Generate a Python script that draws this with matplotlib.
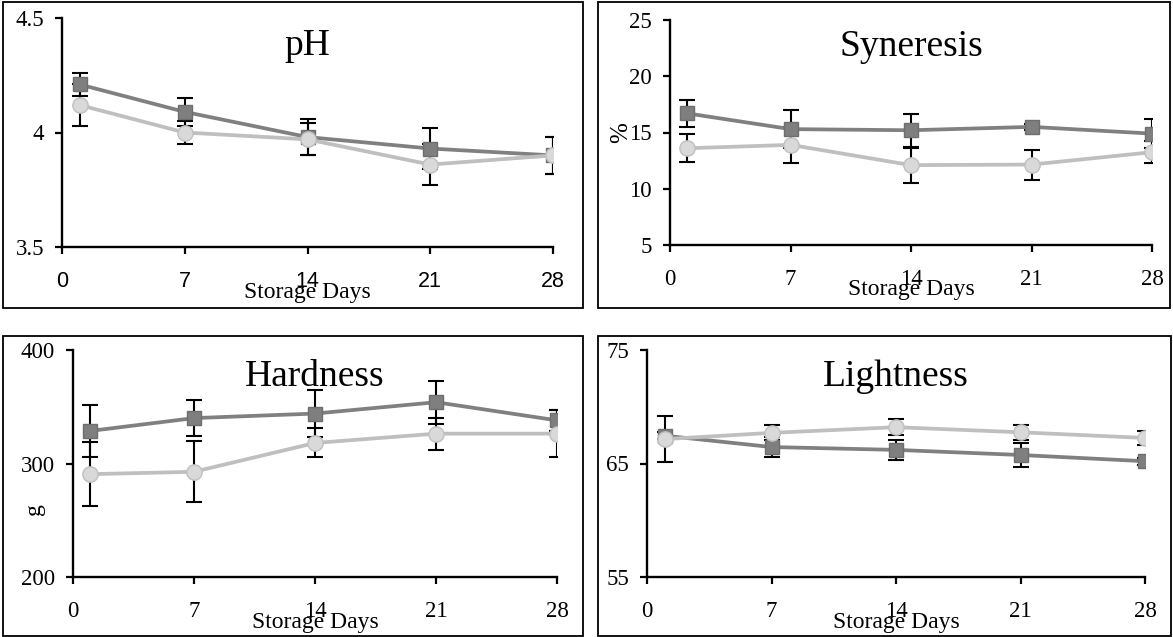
import matplotlib
matplotlib.use("Agg")
import matplotlib.pyplot as plt
from matplotlib.patches import Rectangle

plt.rcParams["font.family"] = ["Liberation Serif", "DejaVu Serif"]

days = [1, 7, 14, 21, 28]
x_ticks = [0, 7, 14, 21, 28]

# pH
ph_dark = [4.21, 4.09, 3.98, 3.93, 3.90]
ph_dark_err = [0.05, 0.06, 0.08, 0.09, 0.08]
ph_light = [4.12, 4.00, 3.97, 3.86, 3.90]
ph_light_err = [0.09, 0.05, 0.07, 0.09, 0.08]

# Syneresis (%)
syn_dark = [16.7, 15.3, 15.2, 15.5, 14.9]
syn_dark_err = [1.2, 1.7, 1.45, 0.3, 1.3]
syn_light = [13.6, 13.9, 12.1, 12.15, 13.25]
syn_light_err = [1.25, 1.6, 1.55, 1.33, 1.0]

# Hardness (g)
hard_dark = [328.7, 340.0, 344.0, 354.0, 338.0]
hard_dark_err = [23.0, 15.6, 20.4, 19.0, 9.4]
hard_light = [290.6, 292.7, 318.1, 326.3, 326.3]
hard_light_err = [28.0, 27.0, 12.8, 14.0, 21.0]

# Lightness
lig_dark = [67.45, 66.45, 66.2, 65.75, 65.2]
lig_dark_err = [0.3, 0.9, 0.9, 1.06, 0.3]
lig_light = [67.15, 67.7, 68.2, 67.75, 67.25]
lig_light_err = [2.05, 0.65, 0.7, 0.67, 0.6]

W, H = 1173, 637
fig = plt.figure(figsize=(W / 100, H / 100), dpi=100)


def px_axes(x0, x1, y0, y1):
    return fig.add_axes([x0 / W, 1 - y1 / H, (x1 - x0) / W, (y1 - y0) / H])


def box(x0, x1, y0, y1):
    fig.patches.append(Rectangle((x0 / W, 1 - y1 / H), (x1 - x0) / W, (y1 - y0) / H,
                                 transform=fig.transFigure, fill=False,
                                 edgecolor="black", linewidth=1.3))


def panel(ax, title, dark, dark_err, light, light_err, ylim, yticks, ylabels):
    ax.errorbar(days, dark, yerr=dark_err, fmt="none", ecolor="black",
                elinewidth=1.5, capsize=5.5, capthick=1.5, zorder=2)
    ax.errorbar(days, light, yerr=light_err, fmt="none", ecolor="black",
                elinewidth=1.5, capsize=5.5, capthick=1.5, zorder=2)
    ax.plot(days, dark, color="#808080", lw=2.7, marker="s", ms=10.5,
            mfc="#7f7f7f", mec="#6e6e6e", zorder=3)
    ax.plot(days, light, color="#bfbfbf", lw=2.7, marker="o", ms=11,
            mfc="#d9d9d9", mec="#bfbfbf", zorder=4)
    ax.set_xlim(0, 28)
    ax.set_ylim(*ylim)
    ax.set_xticks(x_ticks)
    ax.set_yticks(yticks)
    ax.set_yticklabels(ylabels)
    for s in ["top", "right"]:
        ax.spines[s].set_visible(False)
    for s in ["left", "bottom"]:
        ax.spines[s].set_linewidth(1.7)
    ax.tick_params(axis="both", direction="out", length=5, width=1.6,
                   labelsize=16.5)
    ax.tick_params(axis="x", pad=12)
    ax.tick_params(axis="y", pad=8)
    ax.set_facecolor("none")
    ax.text(0.5, 0.88, title, transform=ax.transAxes, ha="center",
            va="center", fontsize=27)
    ax.text(0.5, -0.2, "Storage Days", transform=ax.transAxes,
            ha="center", va="center", fontsize=17)


box(3, 583, 2, 308)
box(598, 1170, 2, 308)
box(3, 583, 336, 636)
box(598, 1171, 336, 636)

ax1 = px_axes(62, 553, 18, 247)
panel(ax1, "pH", ph_dark, ph_dark_err, ph_light, ph_light_err,
      (3.5, 4.5), [3.5, 4, 4.5], ["3.5", "4", "4.5"])
for lbl in ax1.get_xticklabels():
    lbl.set_family(["Liberation Sans", "DejaVu Sans"])
    lbl.set_fontsize(15.5)

ax2 = px_axes(670, 1152, 20, 245)
panel(ax2, "Syneresis", syn_dark, syn_dark_err, syn_light, syn_light_err,
      (5, 25), [5, 10, 15, 20, 25], ["5", "10", "15", "20", "25"])
ax2.set_ylabel("%", fontsize=18, labelpad=-2)

ax3 = px_axes(73, 557, 350, 577)
panel(ax3, "Hardness", hard_dark, hard_dark_err, hard_light, hard_light_err,
      (200, 400), [200, 300, 400], ["200", "300", "400"])
ax3.text(-0.08, 0.30, "g", transform=ax3.transAxes, rotation=90,
         ha="center", va="center", fontsize=17)

ax4 = px_axes(647, 1145, 350, 577)
panel(ax4, "Lightness", lig_dark, lig_dark_err, lig_light, lig_light_err,
      (55, 75), [55, 65, 75], ["55", "65", "75"])

fig.savefig("out.png", dpi=100)
